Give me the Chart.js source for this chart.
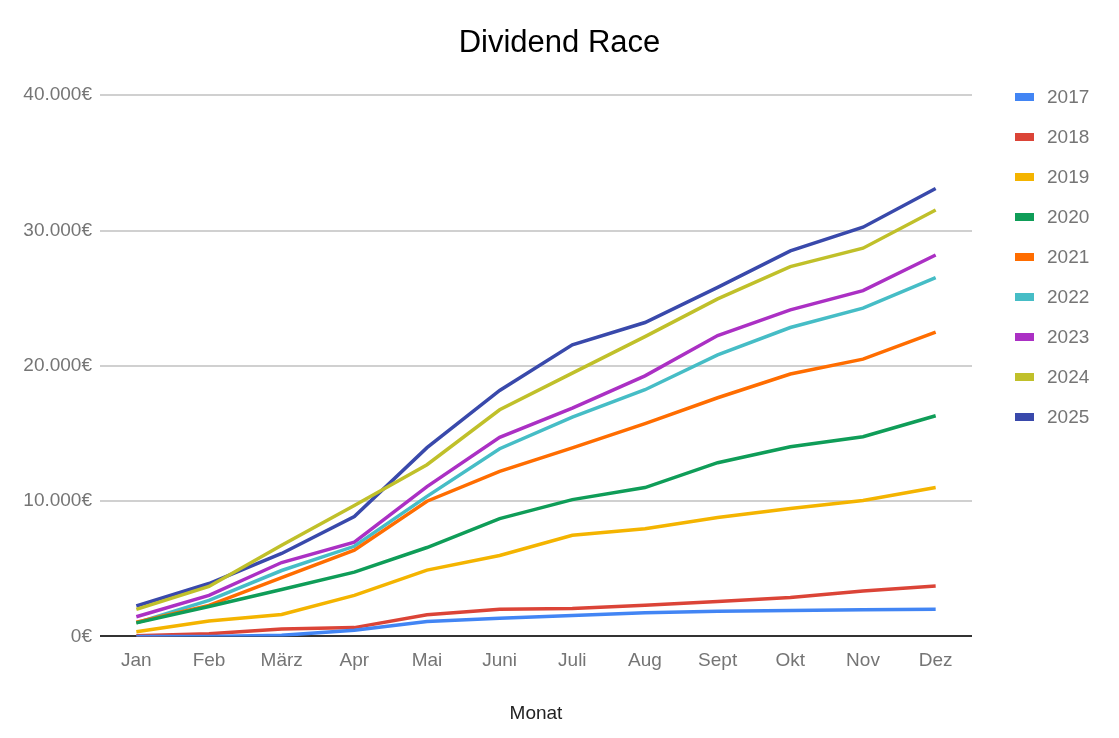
<!DOCTYPE html>
<html>
<head>
<meta charset="utf-8">
<script src="https://cdn.jsdelivr.net/npm/chart.js@4"></script>
<style>
  html, body { margin: 0; padding: 0; background: #fff; }
  #wrap { position: relative; width: 1119px; height: 738px; }
  #legend { position: absolute; left: 1015px; top: 86px; font-family: "Liberation Sans", Arial, sans-serif; font-size: 19px; line-height: 22px; color: #757575; }
  #legend div { height: 40px; display: flex; align-items: flex-start; }
  #legend span.box { display: inline-block; width: 19px; height: 8px; margin-top: 7px; margin-right: 13px; }
</style>
</head>
<body>
<div id="wrap">
  <canvas id="canvas" width="1119" height="738"></canvas>
  <div id="legend"></div>
</div>
<script>
(function () {
    var months = ['Jan', 'Feb', 'März', 'Apr', 'Mai', 'Juni', 'Juli', 'Aug', 'Sept', 'Okt', 'Nov', 'Dez'];
    var years = ['2017', '2018', '2019', '2020', '2021', '2022', '2023', '2024', '2025'];
    var colors = ['#4285F4', '#DB4437', '#F4B400', '#0F9D58', '#FF6D00', '#46BDC6', '#AB30C4', '#C0C02A', '#3949AB'];

    var y2017 = [0, 0, 80, 450, 1100, 1350, 1550, 1750, 1850, 1920, 1970, 2000];
    var y2018 = [50, 200, 550, 650, 1600, 2000, 2070, 2310, 2580, 2870, 3350, 3720];
    var y2019 = [350, 1130, 1620, 3030, 4900, 5980, 7480, 7950, 8780, 9450, 10040, 11000];
    var y2020 = [1000, 2210, 3470, 4750, 6570, 8710, 10110, 11000, 12840, 14020, 14760, 16310];
    var y2021 = [1050, 2290, 4350, 6370, 9990, 12200, 13930, 15720, 17640, 19390, 20490, 22490];
    var y2022 = [1000, 2660, 4870, 6660, 10350, 13870, 16210, 18230, 20810, 22830, 24260, 26520];
    var y2023 = [1450, 3030, 5460, 6960, 11070, 14710, 16880, 19260, 22240, 24130, 25560, 28190];
    var y2024 = [2000, 3690, 6740, 9670, 12690, 16750, 19460, 22160, 24950, 27330, 28690, 31510];
    var y2025 = [2250, 3910, 6130, 8860, 13950, 18180, 21550, 23200, 25800, 28490, 30240, 33110];

    var series = [y2017, y2018, y2019, y2020, y2021, y2022, y2023, y2024, y2025];
    var font = "'Liberation Sans', Arial, sans-serif";

    function euro(v) {
        return String(v).replace(/\B(?=(\d{3})+(?!\d))/g, '.') + '€';
    }

    var datasets = series.map(function (data, i) {
        return {
            label: years[i],
            data: data,
            borderColor: colors[i],
            backgroundColor: colors[i],
            borderWidth: 3.5,
            pointRadius: 0,
            tension: 0,
            fill: false
        };
    });

    var ctx = document.getElementById('canvas').getContext('2d');
    var chart = new Chart(ctx, {
        type: 'line',
        data: { labels: months, datasets: datasets },
        options: {
            responsive: false,
            animation: false,
            layout: { padding: 0 },
            plugins: {
                legend: { display: false },
                tooltip: { enabled: false },
                title: {
                    display: true,
                    text: 'Dividend Race',
                    color: '#000',
                    font: { family: font, size: 31, weight: 'normal' },
                    padding: { top: 25, bottom: 33 }
                }
            },
            scales: {
                x: {
                    offset: true,
                    grid: { display: false, drawTicks: false },
                    border: { display: false },
                    ticks: { color: '#757575', font: { family: font, size: 19 }, padding: 13, maxRotation: 0 },
                    title: {
                        display: true,
                        text: 'Monat',
                        color: '#222',
                        font: { family: font, size: 19 },
                        padding: { top: 17, bottom: 13 }
                    }
                },
                y: {
                    min: 0,
                    max: 40000,
                    ticks: { stepSize: 10000, color: '#757575', font: { family: font, size: 19 }, padding: 8, callback: euro },
                    grid: {
                        drawTicks: false,
                        lineWidth: 2,
                        color: function (c) { return c.tick && c.tick.value === 0 ? '#333' : '#d0d0d0'; }
                    },
                    border: { display: false },
                    afterFit: function (scale) { scale.width = 100; }
                },
                spacer: {
                    position: 'right',
                    display: true,
                    grid: { display: false, drawTicks: false },
                    border: { display: false },
                    ticks: { display: false },
                    afterFit: function (scale) { scale.width = 147; }
                }
            }
        }
    });

    var legendEl = document.getElementById('legend');
    chart.data.datasets.forEach(function (ds) {
        var row = document.createElement('div');
        var box = document.createElement('span');
        box.className = 'box';
        box.style.background = ds.borderColor;
        row.appendChild(box);
        row.appendChild(document.createTextNode(ds.label));
        legendEl.appendChild(row);
    });
})();
</script>
</body>
</html>
